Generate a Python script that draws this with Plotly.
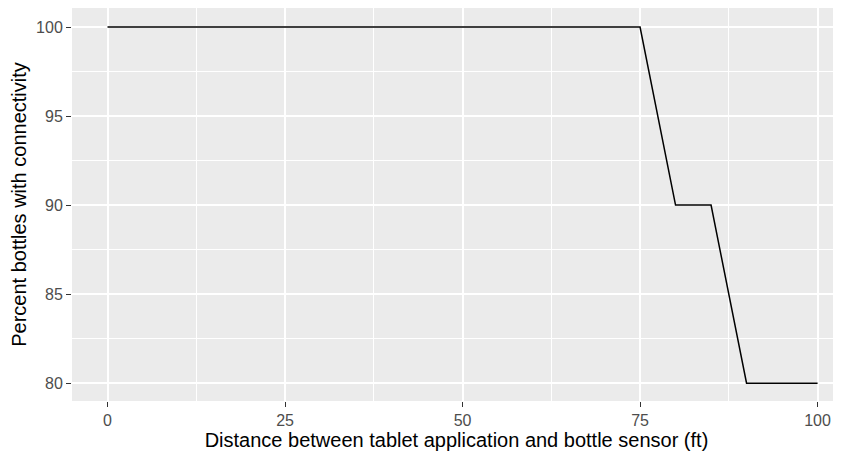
import plotly.graph_objects as go

distance_ft = [0, 75, 80, 85, 90, 100]
percent_connected = [100, 100, 90, 90, 80, 80]
x_ticks = [0, 25, 50, 75, 100]
y_ticks = [80, 85, 90, 95, 100]

fig = go.Figure()
fig.add_trace(go.Scatter(
    x=distance_ft, y=percent_connected, mode="lines",
    line=dict(color="black", width=1.5), hoverinfo="x+y", showlegend=False,
))

axis_common = dict(
    showgrid=True, gridcolor="white", gridwidth=1.5,
    zeroline=False, showline=False,
    ticks="outside", ticklen=5, tickwidth=1.4, tickcolor="#333333",
    tickfont=dict(family="Liberation Sans, Arial, sans-serif", size=16, color="#4D4D4D"),
    minor=dict(showgrid=True, gridcolor="white", gridwidth=0.7, ticks=""),
)

# page body has an 8px margin; figure is sized to fill the remaining window
fig.update_layout(
    width=833, height=450,
    margin=dict(l=64, r=0, t=0, b=57, autoexpand=False),
    paper_bgcolor="white", plot_bgcolor="#EBEBEB",
    font=dict(family="Liberation Sans, Arial, sans-serif", color="black"),
    xaxis=dict(
        axis_common, range=[-5, 103.3], tickvals=x_ticks,
        minor_dtick=12.5, minor_tick0=12.5,
        title=dict(text="Distance between tablet application and bottle sensor (ft)",
                   font=dict(size=20, color="black"), standoff=4),
    ),
    yaxis=dict(
        axis_common, range=[79, 101.07], tickvals=y_ticks,
        minor_dtick=2.5, minor_tick0=82.5,
        title=dict(text="Percent bottles with connectivity",
                   font=dict(size=20, color="black"), standoff=6),
    ),
)

fig.write_html("out.html")
